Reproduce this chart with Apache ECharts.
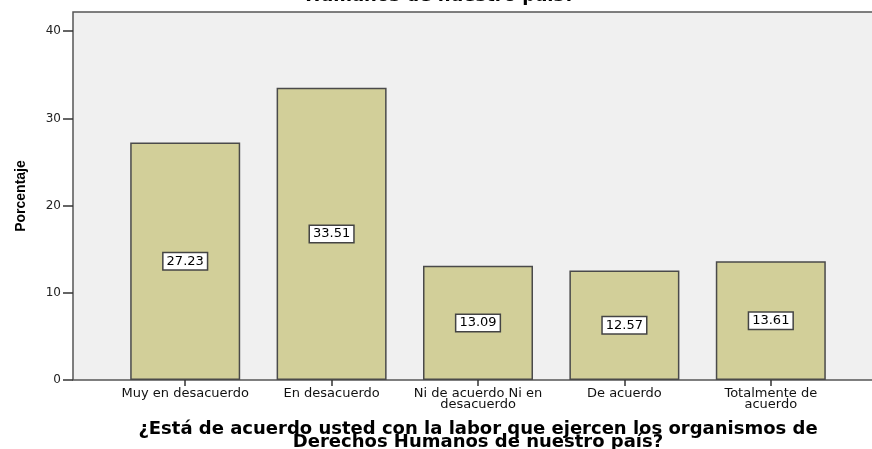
<!DOCTYPE html>
<html>
<head>
<meta charset="utf-8">
<script src="https://cdn.jsdelivr.net/npm/echarts@6/dist/echarts.min.js"></script>
<style>
html,body{margin:0;padding:0;background:#fff;}
#c{width:872px;height:449px;}
</style>
</head>
<body>
<div id="c"></div>
<script>
const categories = ['Muy en desacuerdo', 'En desacuerdo', 'Ni de acuerdo Ni en\ndesacuerdo', 'De acuerdo', 'Totalmente de\nacuerdo'];
const percentages = [27.23, 33.51, 13.09, 12.57, 13.61];
const yTicks = [0, 10, 20, 30, 40];
const titleText = 'Humanos de nuestro país?';
const xAxisTitle = '¿Está de acuerdo usted con la labor que ejercen los organismos de\nDerechos Humanos de nuestro país?';
const yAxisTitle = 'Porcentaje';

const chart = echarts.init(document.getElementById('c'), null, {renderer: 'canvas'});
const YMAX = 42.2;
chart.setOption({
  animation: false,
  backgroundColor: '#ffffff',
  graphic: [{
    type: 'text',
    x: 440, y: -4,
    style: {
      text: titleText,
      font: 'bold 18px "DejaVu Sans"',
      fill: '#000',
      align: 'center',
      verticalAlign: 'middle'
    }
  }],
  grid: [
    {left: 73, right: -5, top: 12, bottom: 69, show: true, backgroundColor: '#f0f0f0', borderColor: '#555', borderWidth: 1.5, outerBoundsMode: 'none'},
    {left: 112, right: 28, top: 12, bottom: 69, outerBoundsMode: 'none'}
  ],
  xAxis: [
    {gridIndex: 0, type: 'value', min: 0, max: 1, show: false},
    {
      gridIndex: 1, type: 'category', data: categories,
      name: xAxisTitle, nameLocation: 'middle', nameGap: 43,
      nameTextStyle: {fontFamily: 'DejaVu Sans', fontWeight: 'bold', fontSize: 18, color: '#000', lineHeight: 13},
      axisLine: {show: false},
      axisTick: {show: true, alignWithLabel: true, length: 6, lineStyle: {color: '#333', width: 1.5}},
      axisLabel: {fontFamily: 'DejaVu Sans', fontSize: 13, color: '#111', lineHeight: 11, margin: 8, interval: 0}
    }
  ],
  yAxis: [
    {
      gridIndex: 0, type: 'value', min: 0, max: YMAX, interval: 10,
      name: yAxisTitle, nameLocation: 'middle', nameGap: 45, nameRotate: 90,
      nameTextStyle: {fontFamily: 'Liberation Sans', fontWeight: 'bold', fontSize: 14, color: '#000'},
      axisLine: {show: false},
      splitLine: {show: false},
      axisTick: {show: true, length: 10, lineStyle: {color: '#333', width: 1.5}, customValues: yTicks},
      axisLabel: {fontFamily: 'DejaVu Sans', fontSize: 12, color: '#222', margin: 12, customValues: yTicks}
    },
    {gridIndex: 1, type: 'value', min: 0, max: YMAX, show: false}
  ],
  series: [{
    type: 'bar',
    xAxisIndex: 1, yAxisIndex: 1,
    data: percentages,
    barWidth: 110,
    itemStyle: {color: '#d2cf99', borderColor: '#4a4a4a', borderWidth: 1.5},
    label: {
      show: true, position: 'inside',
      formatter: p => p.value.toFixed(2),
      fontFamily: 'DejaVu Sans', fontSize: 13, color: '#000',
      backgroundColor: '#fff', borderColor: '#444', borderWidth: 1.5,
      padding: [2, 3, 1, 3]
    }
  }]
});
</script>
</body>
</html>
